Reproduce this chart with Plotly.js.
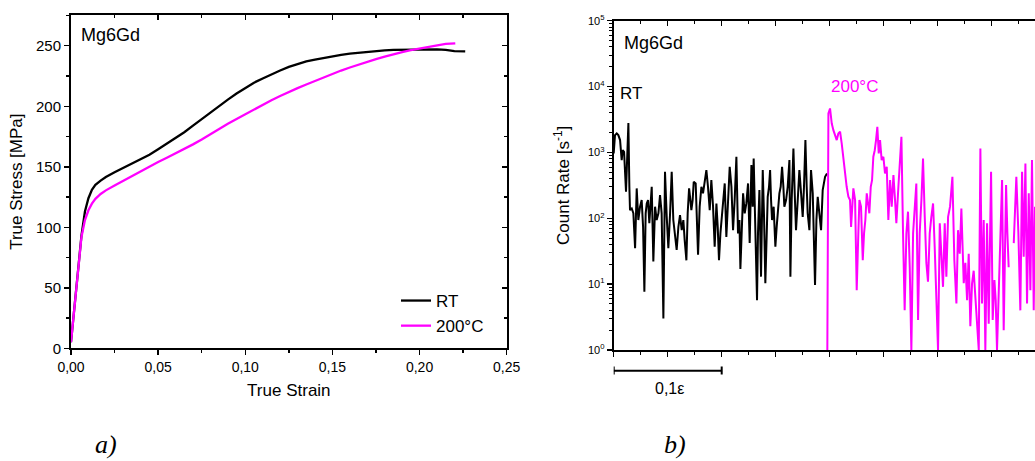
<!DOCTYPE html>
<html>
<head>
<meta charset="utf-8">
<script src="https://cdn.plot.ly/plotly-3.0.1.min.js"></script>
<style>
html, body { margin: 0; padding: 0; overflow: hidden; background: #fff; }
#chart { width: 1100px; height: 461px; }
</style>
</head>
<body>
<div id="chart"></div>
<script>
// ---------- Panel a) : true stress vs true strain ----------
const rtStrain = [0, 0.002, 0.004, 0.006, 0.008, 0.010, 0.012, 0.014, 0.017, 0.020, 0.025, 0.030, 0.035, 0.040, 0.045, 0.050, 0.055, 0.060, 0.065, 0.070, 0.075, 0.080, 0.085, 0.090, 0.095, 0.100, 0.105, 0.110, 0.115, 0.120, 0.125, 0.130, 0.135, 0.140, 0.145, 0.150, 0.155, 0.160, 0.165, 0.170, 0.175, 0.180, 0.185, 0.190, 0.195, 0.200, 0.205, 0.210, 0.215, 0.220, 0.2262];
const rtStress = [5, 35, 65, 93, 113, 124, 131, 135, 138.5, 141.5, 145.5, 149, 152.5, 156, 160, 164.5, 169, 173.5, 178.5, 184, 189.5, 195, 200.5, 205.5, 210.5, 215, 219.5, 223, 226.5, 229.5, 232.5, 235, 237, 238.5, 240, 241, 242.5, 243.5, 244.3, 245, 245.5, 246.2, 246.6, 246.8, 246.8, 246.7, 246.9, 247.0, 246.6, 245.6, 245.4];

const htStrain = [0, 0.002, 0.004, 0.006, 0.008, 0.010, 0.012, 0.014, 0.017, 0.020, 0.025, 0.030, 0.035, 0.040, 0.045, 0.050, 0.055, 0.060, 0.065, 0.070, 0.075, 0.080, 0.085, 0.090, 0.095, 0.100, 0.105, 0.110, 0.115, 0.120, 0.125, 0.130, 0.135, 0.140, 0.145, 0.150, 0.155, 0.160, 0.165, 0.170, 0.175, 0.180, 0.185, 0.190, 0.195, 0.200, 0.205, 0.210, 0.215, 0.2205];
const htStress = [5, 35, 65, 92, 106, 114, 119.5, 123.5, 127.5, 130.5, 134.5, 138.5, 142, 146, 150, 154, 157.5, 161, 164.5, 168.5, 172.5, 177, 181.5, 185.5, 189.5, 193.5, 197.5, 201.5, 205, 208.5, 212, 215, 218, 221, 224, 227, 229.5, 232, 234.5, 237, 239, 241, 243, 244.8, 246.3, 247.7, 249, 250.3, 251.5, 252];

// ---------- Panel b) : acoustic emission count rate ----------
const aeRtStrain = [0, 0.0012, 0.0028, 0.0043, 0.0059, 0.0074, 0.0083, 0.0096, 0.0114, 0.0127, 0.0136, 0.0145, 0.0151, 0.0167, 0.0182, 0.0198, 0.0213, 0.0228, 0.0244, 0.0259, 0.0272, 0.0284, 0.0296, 0.0306, 0.0318, 0.0330, 0.0340, 0.0352, 0.0367, 0.0383, 0.0398, 0.0414, 0.0429, 0.0444, 0.0460, 0.0475, 0.0491, 0.0506, 0.0522, 0.0537, 0.0552, 0.0568, 0.0583, 0.0599, 0.0614, 0.0630, 0.0645, 0.0657, 0.0673, 0.0685, 0.0698, 0.0710, 0.0719, 0.0731, 0.0741, 0.0759, 0.0769, 0.0781, 0.0796, 0.0812, 0.0827, 0.0843, 0.0858, 0.0873, 0.0889, 0.0904, 0.0920, 0.0935, 0.0951, 0.0963, 0.0975, 0.0988, 0.0997, 0.1012, 0.1028, 0.1043, 0.1059, 0.1074, 0.1090, 0.1105, 0.1120, 0.1136, 0.1151, 0.1164, 0.1173, 0.1185, 0.1198, 0.1213, 0.1228, 0.1244, 0.1259, 0.1275, 0.1287, 0.1296, 0.1306, 0.1315, 0.1327, 0.1336, 0.1349, 0.1364, 0.1380, 0.1392, 0.1404, 0.1417, 0.1426, 0.1438, 0.1448, 0.1457, 0.1466, 0.1481, 0.1497, 0.1509, 0.1519, 0.1534, 0.1546, 0.1559, 0.1571, 0.1580, 0.1596, 0.1611, 0.1627, 0.1636, 0.1648, 0.1664, 0.1676, 0.1688, 0.1704, 0.1719, 0.1735, 0.1750, 0.1762, 0.1775, 0.1787, 0.1796, 0.1812, 0.1827, 0.1843, 0.1864, 0.1877, 0.1889, 0.1904, 0.1920, 0.1935, 0.1957, 0.1975];
const aeRtRate = [965, 1830, 1940, 1830, 1540, 764, 1080, 1020, 253, 860, 2800, 301, 133, 141, 119, 35, 284, 94, 150, 189, 74, 7.7, 119, 168, 189, 84, 150, 301, 22, 150, 94, 119, 225, 119, 3.0, 508, 105, 35, 119, 508, 94, 59, 33, 74, 112, 66, 94, 47, 23, 119, 284, 189, 133, 189, 359, 338, 119, 28, 150, 301, 239, 380, 539, 301, 133, 380, 150, 37, 168, 74, 23, 59, 94, 189, 338, 52, 189, 605, 301, 66, 189, 860, 59, 94, 17, 74, 239, 119, 168, 338, 42, 642, 150, 810, 189, 29, 5.7, 59, 268, 13, 539, 105, 10.3, 59, 212, 301, 539, 189, 94, 150, 37, 74, 133, 239, 301, 605, 301, 150, 189, 301, 764, 13, 189, 1150, 239, 66, 189, 539, 239, 105, 301, 1540, 301, 119, 66, 539, 239, 9.7, 94, 212, 119, 66, 268, 427, 480];

const aeHtStrain = [0.1978, 0.1988, 0.2003, 0.2019, 0.2034, 0.2049, 0.2065, 0.2080, 0.2096, 0.2111, 0.2127, 0.2142, 0.2157, 0.2173, 0.2188, 0.2198, 0.2210, 0.2219, 0.2235, 0.2250, 0.2265, 0.2275, 0.2290, 0.2306, 0.2318, 0.2330, 0.2343, 0.2355, 0.2367, 0.2380, 0.2392, 0.2404, 0.2417, 0.2429, 0.2441, 0.2454, 0.2466, 0.2481, 0.2497, 0.2512, 0.2528, 0.2543, 0.2559, 0.2574, 0.2590, 0.2605, 0.2617, 0.2636, 0.2651, 0.2664, 0.2679, 0.2694, 0.2710, 0.2725, 0.2741, 0.2756, 0.2772, 0.2787, 0.2802, 0.2818, 0.2833, 0.2849, 0.2864, 0.2880, 0.2895, 0.2910, 0.2926, 0.2941, 0.2957, 0.2972, 0.2988, 0.3003, 0.3019, 0.3034, 0.3049, 0.3065, 0.3080, 0.3096, 0.3114, 0.3136, 0.3154, 0.3173, 0.3188, 0.3204, 0.3219, 0.3241, 0.3256, 0.3272, 0.3287, 0.3302, 0.3318, 0.3333, 0.3349, 0.3364, 0.3380, 0.3395, 0.3410, 0.3426, 0.3441, 0.3457, 0.3472, 0.3494, 0.3509, 0.3525, 0.3537, 0.3549, 0.3571, 0.3596, 0.3611, 0.3633, 0.3645, 0.3657, 0.3680, 0.3704, 0.3728, 0.3747, 0.3765, 0.3781, 0.3796, 0.3812, 0.3827, 0.3843, 0.3858, 0.3873, 0.3889, 0.3901];
const aeHtRate = [1, 3900, 4650, 2750, 2180, 1830, 1540, 1940, 2060, 1370, 764, 480, 301, 212, 189, 74, 189, 284, 189, 8.1, 59, 189, 150, 23, 59, 94, 239, 150, 119, 301, 380, 860, 1080, 1540, 2450, 965, 1540, 764, 860, 480, 605, 94, 380, 150, 452, 189, 84, 301, 764, 1730, 59, 4.0, 59, 126, 18, 1, 59, 150, 338, 2.85, 59, 189, 810, 105, 21, 10.9, 59, 105, 168, 37, 5.7, 1, 84, 29, 9.1, 84, 13, 105, 150, 427, 23, 5.1, 66, 29, 141, 10.3, 21, 5.7, 29, 2.3, 10.3, 16, 5.7, 2.85, 1, 1150, 5.1, 94, 1, 84, 2.5, 508, 2.85, 11.5, 5.7, 1, 21, 380, 2.0, 319, 59, 18, null, 42, 427, 59, 4.0, 508, 26, 680, 5.1, 239, 8.1, 764, 4.0, 150];

const logTickVals = [1, 10, 100, 1000, 10000, 100000];
const logTickText = ['10<sup>0</sup>', '10<sup>1</sup>', '10<sup>2</sup>', '10<sup>3</sup>', '10<sup>4</sup>', '10<sup>5</sup>'];
const scaleBarStrain = [0, 0.1];
const scaleBarLabel = '0,1ε';

// ---------- geometry (px) ----------
const W = 1100, H = 461;
const px = v => v / W;
const py = v => 1 - v / H;

const FONT = 'Liberation Sans, Arial, Helvetica, sans-serif';
const SERIF = 'Liberation Serif, Times New Roman, serif';
const MAG = '#ff00ff';

const traces = [
  { x: rtStrain, y: rtStress, type: 'scatter', mode: 'lines', name: 'RT',
    line: { color: '#000', width: 2.3 }, xaxis: 'x', yaxis: 'y' },
  { x: htStrain, y: htStress, type: 'scatter', mode: 'lines', name: '200°C',
    line: { color: MAG, width: 2.3 }, xaxis: 'x', yaxis: 'y' },
  { x: aeRtStrain, y: aeRtRate, type: 'scatter', mode: 'lines', showlegend: false,
    line: { color: '#000', width: 2 }, xaxis: 'x2', yaxis: 'y2' },
  { x: aeHtStrain, y: aeHtRate, type: 'scatter', mode: 'lines', showlegend: false, connectgaps: false,
    line: { color: MAG, width: 2 }, xaxis: 'x2', yaxis: 'y2' },
  // empty helper traces so the mirrored (inward-tick) frame axes are drawn
  { x: [], y: [], type: 'scatter', mode: 'lines', showlegend: false, xaxis: 'x3', yaxis: 'y' },
  { x: [], y: [], type: 'scatter', mode: 'lines', showlegend: false, xaxis: 'x', yaxis: 'y3' },
  { x: [], y: [], type: 'scatter', mode: 'lines', showlegend: false, xaxis: 'x4', yaxis: 'y2' }
];

const common = { showgrid: false, zeroline: false, showline: true, linecolor: '#000', linewidth: 2,
  tickcolor: '#000', tickwidth: 1.5, fixedrange: true };

const xDomA = [px(71), px(506.7)];
const yDomA = [py(348.3), py(15)];
const xDomB = [px(613.7), px(1090)];
const yDomB = [py(350), py(20.7)];

const layout = {
  width: W, height: H,
  margin: { l: 0, r: 0, t: 0, b: 0 },
  paper_bgcolor: '#fff', plot_bgcolor: 'rgba(0,0,0,0)',
  separators: ',.',
  font: { family: FONT, color: '#000', size: 14 },
  hovermode: false,
  showlegend: true,
  legend: { x: px(396), y: py(283), xanchor: 'left', yanchor: 'top', bgcolor: 'rgba(0,0,0,0)',
    font: { family: FONT, size: 17, color: '#000' }, tracegroupgap: 0 },
  xaxis: Object.assign({}, common, {
    domain: xDomA, anchor: 'y', range: [0, 0.25], tick0: 0, dtick: 0.05, tickformat: '.2f',
    ticks: 'outside', ticklen: 5, tickfont: { size: 14 },
    minor: { dtick: 0.025, ticks: 'outside', ticklen: 3, tickwidth: 1.5, tickcolor: '#000' },
    title: { text: 'True Strain', font: { size: 17 }, standoff: 10 }
  }),
  yaxis: Object.assign({}, common, {
    domain: yDomA, anchor: 'x', range: [0, 275.4], tick0: 0, dtick: 50,
    ticks: 'outside', ticklen: 5, tickfont: { size: 15 },
    minor: { dtick: 25, ticks: 'outside', ticklen: 3, tickwidth: 1.5, tickcolor: '#000' },
    title: { text: 'True Stress [MPa]', font: { size: 17 }, standoff: 9 }
  }),
  xaxis3: Object.assign({}, common, {
    overlaying: 'x', anchor: 'y', side: 'top', range: [0, 0.25], tick0: 0, dtick: 0.05,
    ticks: 'inside', ticklen: 5, showticklabels: false,
    minor: { dtick: 0.025, ticks: 'inside', ticklen: 3, tickwidth: 1.5, tickcolor: '#000' }
  }),
  yaxis3: Object.assign({}, common, {
    overlaying: 'y', anchor: 'x', side: 'right', range: [0, 275.4], tick0: 0, dtick: 50,
    ticks: 'inside', ticklen: 5, showticklabels: false,
    minor: { dtick: 25, ticks: 'inside', ticklen: 3, tickwidth: 1.5, tickcolor: '#000' }
  }),
  xaxis2: Object.assign({}, common, {
    domain: xDomB, anchor: 'y2', range: [0, 0.441], tick0: 0, dtick: 0.05,
    ticks: 'outside', ticklen: 5, showticklabels: false,
    minor: { dtick: 0.025, ticks: 'outside', ticklen: 3, tickwidth: 1.5, tickcolor: '#000' }
  }),
  yaxis2: Object.assign({}, common, {
    domain: yDomB, anchor: 'x2', type: 'log', range: [0, 5],
    tickmode: 'array', tickvals: logTickVals, ticktext: logTickText,
    ticks: 'outside', ticklen: 5, tickfont: { size: 11 },
    minor: { dtick: 'D1', ticks: 'outside', ticklen: 3, tickwidth: 1, tickcolor: '#000' },
    title: { text: 'Count Rate [s<sup>-1</sup>]', font: { size: 17 }, standoff: 14 }
  }),
  xaxis4: Object.assign({}, common, {
    overlaying: 'x2', anchor: 'y2', side: 'top', range: [0, 0.441], tick0: 0, dtick: 0.05,
    ticks: 'inside', ticklen: 5, showticklabels: false,
    minor: { dtick: 0.025, ticks: 'inside', ticklen: 3, tickwidth: 1.5, tickcolor: '#000' }
  }),
  shapes: [
    { type: 'line', xref: 'x2', yref: 'paper', x0: scaleBarStrain[0], x1: scaleBarStrain[1],
      y0: py(370.7), y1: py(370.7), line: { color: '#000', width: 2 } },
    { type: 'line', xref: 'x2', yref: 'paper', x0: scaleBarStrain[0], x1: scaleBarStrain[0],
      y0: py(366.5), y1: py(374.5), line: { color: '#000', width: 2 } },
    { type: 'line', xref: 'x2', yref: 'paper', x0: scaleBarStrain[1], x1: scaleBarStrain[1],
      y0: py(366.5), y1: py(374.5), line: { color: '#000', width: 2 } }
  ],
  annotations: [
    { text: 'Mg6Gd', xref: 'paper', yref: 'paper', x: px(79), y: py(35), xanchor: 'left', yanchor: 'middle',
      showarrow: false, font: { size: 18 } },
    { text: 'Mg6Gd', xref: 'paper', yref: 'paper', x: px(622), y: py(43), xanchor: 'left', yanchor: 'middle',
      showarrow: false, font: { size: 18 } },
    { text: 'RT', xref: 'paper', yref: 'paper', x: px(618), y: py(94), xanchor: 'left', yanchor: 'middle',
      showarrow: false, font: { size: 17, color: '#000' } },
    { text: '200°C', xref: 'paper', yref: 'paper', x: px(829), y: py(87), xanchor: 'left', yanchor: 'middle',
      showarrow: false, font: { size: 17, color: MAG } },
    { text: scaleBarLabel, xref: 'paper', yref: 'paper', x: px(669), y: py(388), xanchor: 'center', yanchor: 'middle',
      showarrow: false, font: { size: 16 } },
    { text: '<i>a)</i>', xref: 'paper', yref: 'paper', x: px(106), y: py(444), xanchor: 'center', yanchor: 'middle',
      showarrow: false, font: { family: SERIF, size: 26 } },
    { text: '<i>b)</i>', xref: 'paper', yref: 'paper', x: px(675), y: py(444), xanchor: 'center', yanchor: 'middle',
      showarrow: false, font: { family: SERIF, size: 26 } }
  ]
};

Plotly.newPlot('chart', traces, layout, { staticPlot: true, displayModeBar: false });
</script>
</body>
</html>
